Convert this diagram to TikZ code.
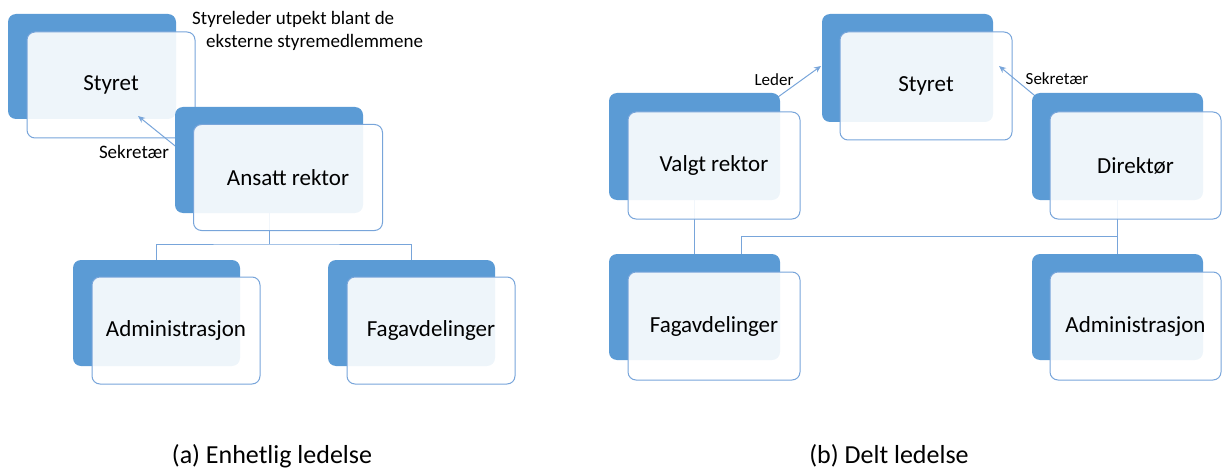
\documentclass[tikz,border=0pt]{standalone}
\usepackage{fontspec}
\setmainfont{Carlito}
\usetikzlibrary{arrows.meta}
\pgfdeclarelayer{bg}
\pgfsetlayers{bg,main}
\definecolor{bblue}{RGB}{91,155,213}
\definecolor{lblue}{RGB}{120,165,218}
\tikzset{
  backbox/.style={draw=none, fill=bblue, rounded corners=8pt, inner sep=0pt},
  frontbox/.style={draw=lblue, line width=1pt, fill=white, fill opacity=0.9, text opacity=1,
     rounded corners=8pt, inner sep=0pt, font=\fontsize{23}{27}\selectfont},
  conn/.style={draw=lblue, line width=0.9pt},
  arr/.style={draw=lblue, line width=1pt, -{Stealth[length=7pt,width=6pt]}},
  lbl/.style={inner sep=0pt, font=\fontsize{19}{23}\selectfont},
  slbl/.style={inner sep=0pt, font=\fontsize{17}{20}\selectfont},
  captxt/.style={inner sep=0pt, font=\fontsize{26}{30}\selectfont},
}
\begin{document}
\begin{tikzpicture}[x=1pt,y=-1pt]
\useasboundingbox (0,0) rectangle (1223,468);
% ---------- (a) ----------
\node[backbox, minimum width=168pt, minimum height=105pt] (styAb) at (92,66.5) {};
\node[frontbox, minimum width=168pt, minimum height=106pt] (styA) at (111,85) {Styret};
\coordinate (sekAs) at (200,166);
\coordinate (sekAe) at (138,116);
\draw[arr] (sekAs) -- (sekAe);
\node[backbox, minimum width=188pt, minimum height=106pt] (ansb) at (269,160) {};
\node[frontbox, minimum width=189pt, minimum height=106pt] (ans) at (288,177.5) {Ansatt rektor};
\node[backbox, minimum width=167pt, minimum height=106pt] (admAb) at (156.5,313) {};
\node[frontbox, minimum width=168pt, minimum height=107pt] (admA) at (176,330.5) {Administrasjon};
\node[backbox, minimum width=167pt, minimum height=106pt] (fagAb) at (411.5,313) {};
\node[frontbox, minimum width=168pt, minimum height=107pt] (fagA) at (431,330.5) {Fagavdelinger};
\coordinate (jA) at (269,244);
\begin{pgfonlayer}{bg}
  \draw[conn] (ansb.north) -- (jA);
  \draw[conn] (admAb.north) |- (jA) -| (fagAb.north);
\end{pgfonlayer}
\node[lbl] (sekA) at (134,152) {Sekretær};
\node[lbl, align=left, anchor=north west] (styl) at (192,11)
  {Styreleder utpekt blant de\\\hspace*{14pt}eksterne styremedlemmene};
\node[captxt] (capA) at (272,456) {(a) Enhetlig ledelse};
% ---------- (b) ----------
\node[backbox, minimum width=171pt, minimum height=108pt] (styBb) at (907.5,68) {};
\node[frontbox, minimum width=172pt, minimum height=108pt] (styB) at (926,86) {Styret};
\coordinate (ledS) at (778,97);
\coordinate (ledE) at (821,66);
\draw[arr] (ledS) -- (ledE);
\coordinate (sekBs) at (1040,100);
\coordinate (sekBe) at (999,66);
\draw[arr] (sekBs) -- (sekBe);
\node[backbox, minimum width=171pt, minimum height=107pt] (valb) at (694.5,146.5) {};
\node[frontbox, minimum width=172pt, minimum height=107pt] (val) at (714,165.5) {Valgt rektor};
\node[backbox, minimum width=171pt, minimum height=107pt] (dirb) at (1117.5,146.5) {};
\node[frontbox, minimum width=171pt, minimum height=107pt] (dir) at (1135.5,165.5) {Direktør};
\node[backbox, minimum width=171pt, minimum height=106pt] (fagBb) at (694.5,307) {};
\node[frontbox, minimum width=172pt, minimum height=108pt] (fagB) at (714,326) {Fagavdelinger};
\node[backbox, minimum width=171pt, minimum height=106pt] (admBb) at (1117.5,307) {};
\node[frontbox, minimum width=171pt, minimum height=108pt] (admB) at (1135.5,326) {Administrasjon};
\coordinate (jB) at (1117.5,236);
\coordinate (fagBt) at (741,254);
\begin{pgfonlayer}{bg}
  \draw[conn] (valb.center) -- (fagBb.north);
  \draw[conn] (dirb.center) -- (admBb.north);
  \draw[conn] (jB) -| (fagBt);
\end{pgfonlayer}
\node[slbl] (led) at (774,80) {Leder};
\node[slbl] (sekB) at (1057,79) {Sekretær};
\node[captxt] (capB) at (889,456) {(b) Delt ledelse};
\end{tikzpicture}
\end{document}
